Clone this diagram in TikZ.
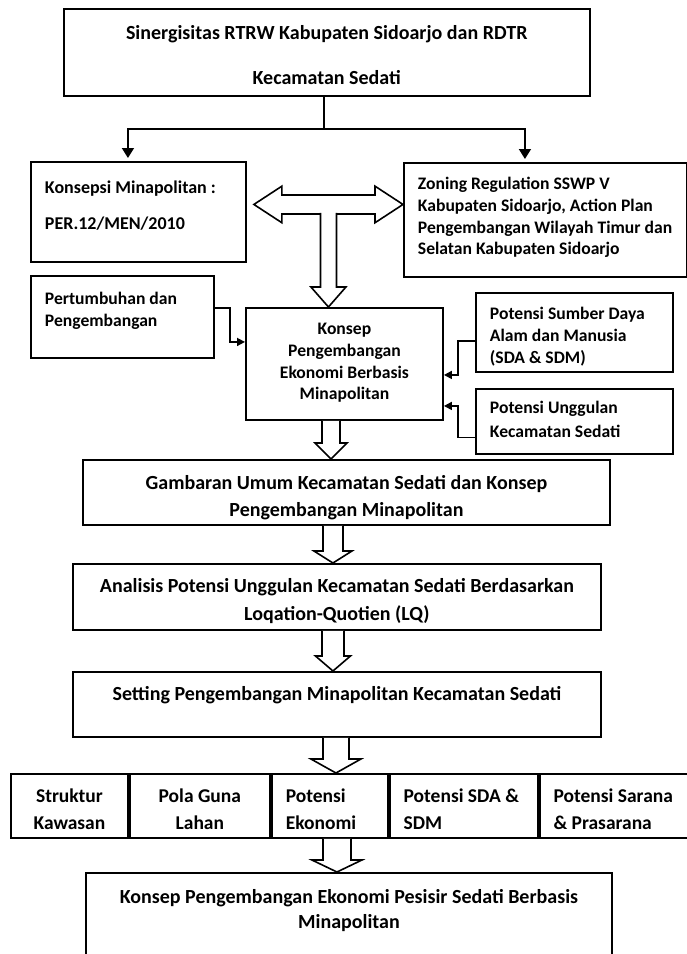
\documentclass[tikz,border=0pt]{standalone}
\usepackage{fontspec}
\setmainfont{Carlito}
\usetikzlibrary{calc,positioning,arrows.meta}

\newcommand{\hurufbesar}{\fontsize{20}{27}\selectfont\bfseries}
\newcommand{\hurufsedang}{\fontsize{18}{22}\selectfont\bfseries}
\newcommand{\hurufkecil}{\fontsize{17.6}{21.7}\selectfont\bfseries}
\newcommand{\hurufbaris}{\fontsize{19.5}{27}\selectfont\bfseries}
\newcommand{\tengah}[4]{\parbox[t][#2pt][t]{#1pt}{\centering\rule{0pt}{#3pt}#4}}
\newcommand{\kiri}[4]{\parbox[t][#2pt][t]{#1pt}{\raggedright\leftskip=14pt\rule{0pt}{#3pt}#4}}
\def\panahturun(#1)(#2)#3#4#5{\draw[blok] ($(#1)+(-#3,0)$) -- ($(#1 |- #2)+(-#3,-#5)$) -- ($(#1 |- #2)+(-#4,-#5)$) -- (#1 |- #2) -- ($(#1 |- #2)+(#4,-#5)$) -- ($(#1 |- #2)+(#3,-#5)$) -- ($(#1)+(#3,0)$);}

\begin{document}
\begin{tikzpicture}[x=1pt,y=-1pt,
	kotak/.style={draw, line width=1.9pt, inner sep=0pt, anchor=north west},
	blok/.style={draw, fill=white, line width=1.6pt, line join=miter},
	konektor/.style={line width=1.6pt, -{Triangle[length=8pt,width=8pt]}},
	cabang/.style={line width=1.6pt, -{Triangle[length=10pt,width=12pt]}, shorten >=3pt}]
			%%%%% START %%%%%
			
			\useasboundingbox (0,0) rectangle (687,954);
			
			\node[kotak, font=\hurufbesar] (atas) at (62.6,8) {\tengah{526.4}{87}{30.6}{Sinergisitas RTRW Kabupaten Sidoarjo dan RDTR\\[18pt]Kecamatan Sedati}};
			
			\node[kotak, font=\hurufsedang] (konsepsi) at (30,161) {\kiri{215}{100}{32}{Konsepsi Minapolitan :\\[14pt]PER.12/MEN/2010}};
			\node[kotak, font=\hurufkecil] (zoning) at (403,162) {\kiri{283}{114}{26.7}{Zoning Regulation SSWP V\\Kabupaten Sidoarjo, Action Plan\\Pengembangan Wilayah Timur dan\\Selatan Kabupaten Sidoarjo}};
			
			\draw[line width=1.6pt] ([xshift=-3pt]atas.south) -- ++(0,32) coordinate (simpul);
			\draw[cabang] (simpul) -| ([xshift=-10.5pt]konsepsi.north);
			\draw[cabang] (simpul) -| ([xshift=-20.5pt]zoning.north);
			
			\node[kotak, font=\hurufkecil] (tumbuh) at (30,275) {\kiri{183}{82}{29}{Pertumbuhan dan\\Pengembangan}};
			\node[kotak, font=\hurufkecil] (konsep) at (245,307) {\tengah{197}{112}{26.8}{Konsep\\Pengembangan\\Ekonomi Berbasis\\Minapolitan}};
			\node[kotak, font=\hurufkecil] (sda) at (475,292) {\kiri{197}{79}{26.8}{Potensi Sumber Daya\\Alam dan Manusia\\(SDA \& SDM)}};
			\node[kotak, font=\hurufkecil] (unggul) at (475,388) {\kiri{197}{65}{24.8}{Potensi Unggulan\\[2.3pt]Kecamatan Sedati}};
			
			\draw[konektor] ([yshift=9pt]tumbuh.east) -- ++(15,0) |- ([yshift=22pt]konsep.west);
			\draw[konektor] ([yshift=-8.5pt]sda.west) -- ++(-17,0) |- ([yshift=-11pt]konsep.east);
			\draw[konektor] ([yshift=-16pt]unggul.west) -- ++(-17,0) |- ([yshift=-42pt]konsep.east);
			
			% panah ganda
			\coordinate (gandaK) at ($(konsepsi.east)+(7,-7.5)$);
			\coordinate (gandaR) at (zoning.west |- gandaK);
			\draw[blok] (gandaK) -- ($(gandaK)+(28,-18.3)$) -- ($(gandaK)+(28,-9.5)$) -- ($(gandaR)+(-28,-9.5)$) -- ($(gandaR)+(-28,-18.3)$) -- (gandaR) -- ($(gandaR)+(-28,18.3)$) -- ($(gandaR)+(-28,9.5)$) -- ($(gandaK)+(28,9.5)$) -- ($(gandaK)+(28,18.3)$) -- cycle;
			\coordinate (gandaT) at ($(gandaK)!0.5!(gandaR)+(0,8.5)$);
			\panahturun(gandaT)(konsep.north){8}{17.5}{20}
			
			\node[kotak, font=\hurufbesar] (gambaran) at (82,459) {\tengah{527}{65}{29.6}{Gambaran Umum Kecamatan Sedati dan Konsep\\Pengembangan Minapolitan}};
			\node[kotak, font=\hurufbesar] (analisis) at (72,563) {\tengah{528}{66}{28.6}{Analisis Potensi Unggulan Kecamatan Sedati Berdasarkan\\[1pt]Loqation-Quotien (LQ)}};
			\node[kotak, font=\hurufbesar] (setting) at (72,671) {\tengah{528}{65}{28.6}{Setting Pengembangan Minapolitan Kecamatan Sedati}};
			
			\node[kotak, font=\hurufbaris] (struktur) at (10,773) {\tengah{117}{64}{28.6}{Struktur\\Kawasan}};
			\node[kotak, font=\hurufbaris, right=0pt of struktur] (pola) {\tengah{140}{64}{28.6}{Pola Guna\\Lahan}};
			\node[kotak, font=\hurufbaris, right=0pt of pola] (ekonomi) {\kiri{116}{64}{28.6}{Potensi\\Ekonomi}};
			\node[kotak, font=\hurufbaris, right=0pt of ekonomi] (sdasdm) {\kiri{148}{64}{28.6}{Potensi SDA \&\\SDM}};
			\node[kotak, font=\hurufbaris, right=0pt of sdasdm] (sarana) {\kiri{155}{64}{28.6}{Potensi Sarana\\\& Prasarana}};
			
			\node[kotak, font=\hurufbesar] (akhir) at (85,872) {\tengah{526}{95}{30.6}{Konsep Pengembangan Ekonomi Pesisir Sedati Berbasis\\[-2pt]Minapolitan}};
			
			\coordinate (p1) at ([xshift=-13.5pt]konsep.south);
			\panahturun(p1)(gambaran.north){9}{16}{16}
			\coordinate (p2) at ([xshift=-13.5pt]gambaran.south);
			\panahturun(p2)(analisis.north){10}{19}{12}
			\coordinate (p3) at ([xshift=-4pt]analisis.south);
			\panahturun(p3)(setting.north){11}{17.5}{15}
			\coordinate (p4) at ([xshift=-1pt]setting.south);
			\panahturun(p4)(ekonomi.north){13}{25}{14}
			\coordinate (p5) at ($(p4 |- ekonomi.south)+(1,0)$);
			\panahturun(p5)(akhir.north){14}{25}{12}
			
			%%%%% END %%%%%
\end{tikzpicture}
\end{document}
